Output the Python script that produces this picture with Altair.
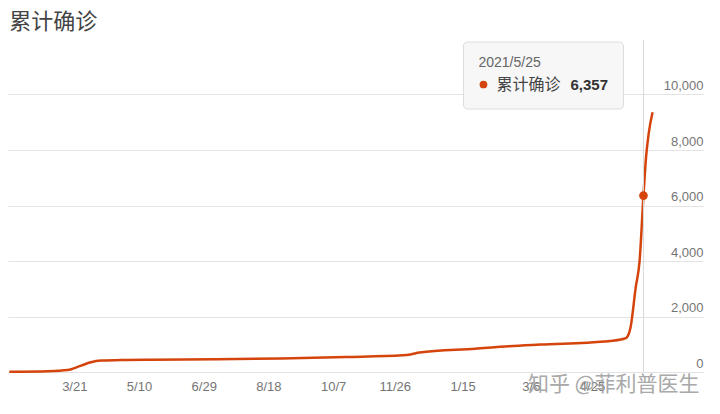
import altair as alt
import pandas as pd

# ---- data ----
dates = [
    "2020-01-21", "2020-02-20", "2020-03-06", "2020-03-16", "2020-03-24",
    "2020-04-01", "2020-04-20", "2020-05-10", "2020-06-29", "2020-08-18",
    "2020-10-07", "2020-11-20", "2020-11-26", "2020-12-03", "2021-01-15",
    "2021-02-10", "2021-03-06", "2021-04-25", "2021-05-10", "2021-05-12",
    "2021-05-15", "2021-05-19", "2021-05-22", "2021-05-25", "2021-05-27",
    "2021-05-29", "2021-06-01",
]
values = [
    10, 30, 70, 220, 350,
    410, 435, 445, 460, 490,
    540, 600, 630, 700, 840,
    930, 990, 1100, 1200, 1240,
    1600, 3040, 4000, 6357, 7740,
    8580, 9360,
]
tick_dates = [
    (2020, 3, 21), (2020, 5, 10), (2020, 6, 29), (2020, 8, 18), (2020, 10, 7),
    (2020, 11, 26), (2021, 1, 15), (2021, 3, 6), (2021, 4, 25),
]
y_ticks = [0, 2000, 4000, 6000, 8000, 10000]
title_text = "累计确诊"
series_name = "累计确诊"
hl_date = "2021-05-25"
hl_label = "2021/5/25"
hl_value = 6357
watermark = "知乎 @菲利普医生"

RED = "#d4440c"
CJK = "Noto Sans CJK SC"
LAT = "Liberation Sans, Arial, sans-serif"
W, H = 695, 333

df = pd.DataFrame({"date": dates, "value": values})
hl = pd.DataFrame({"date": [hl_date], "value": [hl_value],
                   "label": [hl_label], "name": [series_name]})
wm = pd.DataFrame({"t": [watermark]})

def dt(y, m, d):
    return alt.DateTime(year=y, month=m, date=d, utc=True)

xscale = alt.Scale(type="utc", domain=[dt(2020, 1, 20), dt(2021, 7, 10)])
yscale = alt.Scale(domain=[0, 12000])

xaxis = alt.Axis(values=[dt(*t) for t in tick_dates], format="%-m/%-d",
                 grid=False, domain=False, ticks=False, labelAlign="right",
                 labelFlush=False, labelOverlap=False,
                 labelPadding=8, labelFontSize=13, labelFont=LAT,
                 labelColor="#757575", title=None)
yaxis = alt.Axis(values=y_ticks, format=",d", orient="right", grid=True,
                 gridColor="#e3e3e3", domain=False, ticks=False,
                 labelAlign="right", labelPadding=0, labelBaseline="alphabetic",
                 labelOffset=-5, labelFontSize=13, labelFont=LAT,
                 labelColor="#757575", title=None)

base_x = alt.X("date:T", scale=xscale, axis=xaxis)

line = alt.Chart(df).mark_line(color=RED, strokeWidth=2.5, interpolate="monotone").encode(
    x=base_x,
    y=alt.Y("value:Q", scale=yscale, axis=yaxis),
)

rule = alt.Chart(hl).mark_rule(color="#d9d9d9", strokeWidth=1).encode(
    x=alt.X("date:T", scale=xscale), y=alt.value(1), y2=alt.value(H)
)

dot = alt.Chart(hl).mark_circle(color=RED, opacity=1, size=75).encode(
    x=alt.X("date:T", scale=xscale), y=alt.Y("value:Q", scale=yscale)
)

box = alt.Chart(hl).mark_rect(fill="#f7f7f7", stroke="#dcdcdc", strokeWidth=1,
                              cornerRadius=4, xOffset=-180, x2Offset=-20).encode(
    x=alt.X("date:T", scale=xscale), x2="date", y=alt.value(3), y2=alt.value(70)
)

tip_date = alt.Chart(hl).mark_text(align="left", baseline="middle", dx=-165,
                                   fontSize=14, font=LAT, color="#666666").encode(
    x=alt.X("date:T", scale=xscale), y=alt.value(23.5), text="label:N"
)

tip_dot = alt.Chart(hl).mark_circle(color=RED, opacity=1, size=60, xOffset=-160).encode(
    x=alt.X("date:T", scale=xscale), y=alt.value(45.5)
)

tip_name = alt.Chart(hl).mark_text(align="left", baseline="middle", dx=-147,
                                   fontSize=16, font=CJK, color="#444444").encode(
    x=alt.X("date:T", scale=xscale), y=alt.value(45.5), text="name:N"
)

tip_val = alt.Chart(hl).mark_text(align="left", baseline="middle", dx=-73,
                                  fontSize=15, font=LAT, fontWeight="bold",
                                  color="#333333").encode(
    x=alt.X("date:T", scale=xscale), y=alt.value(45.5),
    text=alt.Text("value:Q", format=",")
)

mark_wm = alt.Chart(wm).mark_text(align="left", baseline="middle", fontSize=21,
                                  font=CJK, color="#a0a0a0", opacity=0.9).encode(
    x=alt.value(520), y=alt.value(346), text="t:N"
)

chart = alt.layer(line, rule, dot, box, tip_date, tip_dot, tip_name, tip_val, mark_wm).properties(
    width=W, height=H,
    autosize=alt.AutoSizeParams(type="none"),
    padding={"left": 0, "top": 31, "right": 9, "bottom": 34},
    title=alt.TitleParams(title_text, anchor="start", fontSize=22, font=CJK,
                          color="#444444", fontWeight="normal", offset=5, dx=5),
    background="white",
).configure_view(stroke=None)

chart.save("out.html", embed_options={"renderer": "svg", "actions": False})
